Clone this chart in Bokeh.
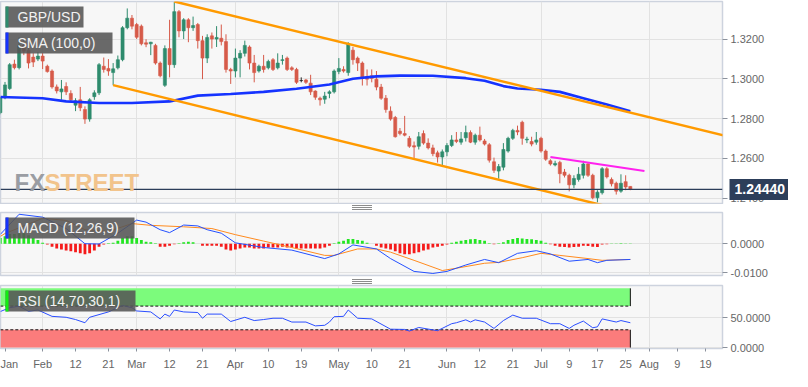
import numpy as np
import pandas as pd
from bokeh.plotting import figure
from bokeh.models import (Range1d, FixedTicker, NumeralTickFormatter, Span, Label,
                          BoxAnnotation, ColumnDataSource, LinearAxis, Div)
from bokeh.layouts import column
from bokeh.embed import file_html
from bokeh.resources import INLINE

# ---------------- data ----------------
days = pd.bdate_range("2019-01-21", "2019-07-26")

opens = [1.2830, 1.2905, 1.2952, 1.3075, 1.3057, 1.3170, 1.3145, 1.3110, 1.3100, 1.3115,
         1.3064, 1.3040, 1.2960, 1.2935, 1.2962, 1.2927, 1.2868, 1.2895, 1.2846, 1.2798,
         1.2911, 1.2930, 1.3064, 1.3053, 1.3032, 1.3056, 1.3097, 1.3258, 1.3306, 1.3274,
         1.3266, 1.3182, 1.3177, 1.3169, 1.3080, 1.2968, 1.3153, 1.3072, 1.3339, 1.3242,
         1.3298, 1.3258, 1.3274, 1.3193, 1.3105, 1.3217, 1.3201, 1.3205, 1.3188, 1.3048,
         1.3040, 1.3105, 1.3129, 1.3161, 1.3080, 1.3040, 1.3064, 1.3056, 1.3097, 1.3056,
         1.3093, 1.3105, 1.3056, 1.3048, 1.2992, 1.2995, 1.2979, 1.2939, 1.2903, 1.2898,
         1.2927, 1.2935, 1.3037, 1.3048, 1.3032, 1.3145, 1.3105, 1.3080, 1.3011, 1.3016,
         1.2999, 1.2959, 1.2903, 1.2838, 1.2806, 1.2737, 1.2725, 1.2701, 1.2664, 1.2661,
         1.2725, 1.2677, 1.2653, 1.2628, 1.2607, 1.2633, 1.2665, 1.2693, 1.2682, 1.2704,
         1.2730, 1.2682, 1.2717, 1.2688, 1.2669, 1.2583, 1.2536, 1.2556, 1.2637, 1.2701,
         1.2741, 1.2782, 1.2693, 1.2685, 1.2682, 1.2701, 1.2637, 1.2588, 1.2567, 1.2580,
         1.2531, 1.2515, 1.2467, 1.2494, 1.2515, 1.2572, 1.2515, 1.2402, 1.2427, 1.2548,
         1.2494, 1.2475, 1.2435, 1.2483, 1.2459]
highs = [1.2910, 1.2985, 1.3080, 1.3097, 1.3210, 1.3200, 1.3170, 1.3130, 1.3135, 1.3130,
         1.3072, 1.3048, 1.2972, 1.2995, 1.2983, 1.2943, 1.2903, 1.2960, 1.2862, 1.2903,
         1.2943, 1.3080, 1.3108, 1.3100, 1.3080, 1.3118, 1.3266, 1.3355, 1.3322, 1.3282,
         1.3274, 1.3200, 1.3187, 1.3177, 1.3088, 1.3169, 1.3298, 1.3387, 1.3347, 1.3306,
         1.3306, 1.3314, 1.3282, 1.3217, 1.3225, 1.3234, 1.3266, 1.3274, 1.3225, 1.3056,
         1.3153, 1.3145, 1.3193, 1.3169, 1.3121, 1.3072, 1.3121, 1.3097, 1.3105, 1.3129,
         1.3121, 1.3113, 1.3064, 1.3056, 1.3008, 1.3000, 1.3021, 1.2943, 1.2911, 1.2935,
         1.2943, 1.3048, 1.3105, 1.3064, 1.3185, 1.3161, 1.3113, 1.3088, 1.3048, 1.3048,
         1.3040, 1.2975, 1.2919, 1.2862, 1.2814, 1.2753, 1.2814, 1.2713, 1.2685, 1.2733,
         1.2741, 1.2701, 1.2669, 1.2639, 1.2645, 1.2677, 1.2717, 1.2733, 1.2733, 1.2765,
         1.2741, 1.2725, 1.2760, 1.2698, 1.2677, 1.2604, 1.2572, 1.2677, 1.2709, 1.2749,
         1.2765, 1.2790, 1.2709, 1.2709, 1.2733, 1.2709, 1.2645, 1.2596, 1.2588, 1.2588,
         1.2547, 1.2523, 1.2515, 1.2556, 1.2588, 1.2580, 1.2523, 1.2440, 1.2556, 1.2556,
         1.2504, 1.2483, 1.2520, 1.2515, 1.2460]
lows = [1.2822, 1.2898, 1.2945, 1.3048, 1.3048, 1.3120, 1.3053, 1.3060, 1.3090, 1.3050,
        1.3032, 1.2951, 1.2927, 1.2895, 1.2919, 1.2887, 1.2838, 1.2838, 1.2774, 1.2785,
        1.2895, 1.2919, 1.3032, 1.3016, 1.2968, 1.3048, 1.3089, 1.3250, 1.3250, 1.3201,
        1.3169, 1.3160, 1.3120, 1.3072, 1.3008, 1.2960, 1.3008, 1.3056, 1.3210, 1.3201,
        1.3185, 1.3242, 1.3153, 1.2999, 1.3080, 1.3153, 1.3161, 1.3169, 1.3032, 1.2975,
        1.3008, 1.3008, 1.3113, 1.3048, 1.2983, 1.3032, 1.3032, 1.3048, 1.3040, 1.3048,
        1.3072, 1.3040, 1.3040, 1.2975, 1.2983, 1.2975, 1.2919, 1.2895, 1.2866, 1.2875,
        1.2903, 1.2927, 1.3024, 1.3032, 1.3016, 1.3072, 1.3040, 1.2967, 1.2967, 1.2983,
        1.2943, 1.2895, 1.2830, 1.2790, 1.2705, 1.2716, 1.2711, 1.2653, 1.2600, 1.2645,
        1.2669, 1.2645, 1.2611, 1.2579, 1.2563, 1.2611, 1.2657, 1.2677, 1.2669, 1.2685,
        1.2677, 1.2669, 1.2685, 1.2665, 1.2579, 1.2527, 1.2498, 1.2540, 1.2629, 1.2693,
        1.2717, 1.2669, 1.2677, 1.2661, 1.2669, 1.2629, 1.2588, 1.2564, 1.2560, 1.2475,
        1.2504, 1.2434, 1.2450, 1.2483, 1.2499, 1.2507, 1.2394, 1.2379, 1.2418, 1.2499,
        1.2459, 1.2418, 1.2427, 1.2440, 1.2440]
closes = [1.2905, 1.2970, 1.3072, 1.3057, 1.3169, 1.3140, 1.3080, 1.3085, 1.3115, 1.3090,
          1.3037, 1.2960, 1.2940, 1.2950, 1.2935, 1.2895, 1.2890, 1.2855, 1.2798, 1.2895,
          1.2930, 1.3072, 1.3048, 1.3040, 1.3051, 1.3097, 1.3258, 1.3306, 1.3266, 1.3210,
          1.3177, 1.3175, 1.3185, 1.3080, 1.3016, 1.3153, 1.3072, 1.3339, 1.3242, 1.3298,
          1.3258, 1.3269, 1.3193, 1.3105, 1.3209, 1.3201, 1.3209, 1.3188, 1.3048, 1.3040,
          1.3105, 1.3129, 1.3169, 1.3080, 1.3032, 1.3064, 1.3048, 1.3088, 1.3048, 1.3080,
          1.3097, 1.3048, 1.3048, 1.2983, 1.2992, 1.2983, 1.2935, 1.2908, 1.2895, 1.2914,
          1.2935, 1.3040, 1.3053, 1.3040, 1.3177, 1.3097, 1.3080, 1.3008, 1.2999, 1.3003,
          1.2959, 1.2903, 1.2846, 1.2798, 1.2709, 1.2725, 1.2717, 1.2661, 1.2657, 1.2709,
          1.2677, 1.2653, 1.2624, 1.2607, 1.2633, 1.2665, 1.2693, 1.2685, 1.2698, 1.2730,
          1.2682, 1.2717, 1.2693, 1.2672, 1.2591, 1.2540, 1.2559, 1.2645, 1.2701, 1.2741,
          1.2733, 1.2701, 1.2697, 1.2672, 1.2693, 1.2637, 1.2596, 1.2572, 1.2575, 1.2523,
          1.2515, 1.2467, 1.2499, 1.2520, 1.2572, 1.2515, 1.2402, 1.2430, 1.2548, 1.2507,
          1.2472, 1.2435, 1.2475, 1.2456, 1.2444]

# SMA(100): trading-day index -> value
sma_day = [0, 9, 14, 21, 28, 36, 42, 49, 56, 63, 70, 75, 80, 85, 92, 99, 103, 107, 110,
           115, 119, 124, 129, 134]
sma_value = [1.2909, 1.2903, 1.2887, 1.2879, 1.2879, 1.2887, 1.2916, 1.2924, 1.2935,
             1.2951, 1.2972, 1.3001, 1.3013, 1.3017, 1.3016, 1.3004, 1.2991, 1.2964,
             1.2952, 1.2946, 1.2935, 1.2903, 1.2871, 1.2838]

# MACD (12,26,9)
macd_day = [0, 4, 9, 14, 18, 21, 25, 29, 31, 34, 36, 39, 42, 44, 47, 50, 56, 62, 69, 72,
            75, 80, 83, 88, 92, 95, 99, 103, 106, 110, 114, 117, 121, 125, 127, 129, 134]
macd_value = [0.0032, 0.0101, 0.0091, 0.0052, 0.0000, -0.0001, 0.0036, 0.0081, 0.0074,
              0.0048, 0.0038, 0.0064, 0.0061, 0.0048, 0.0036, 0.0003, -0.0013, -0.0022,
              -0.0051, -0.0035, -0.0004, -0.0018, -0.0051, -0.0095, -0.0102, -0.0095,
              -0.0073, -0.0054, -0.0065, -0.0033, -0.0024, -0.0035, -0.0060, -0.0054,
              -0.0065, -0.0057, -0.0054]
signal_day = [0, 1, 9, 14, 18, 23, 28, 32, 39, 45, 50, 56, 62, 69, 71, 76, 80, 83, 88, 94,
              97, 103, 106, 111, 115, 119, 125, 128, 134]
signal_value = [0.0025, 0.0035, 0.0087, 0.0080, 0.0048, 0.0042, 0.0069, 0.0063, 0.0058,
                0.0052, 0.0031, 0.0009, -0.0013, -0.0040, -0.0040, -0.0018, -0.0018,
                -0.0029, -0.0057, -0.0092, -0.0084, -0.0067, -0.0064, -0.0048, -0.0033,
                -0.0040, -0.0051, -0.0057, -0.0054]
hist_value = [0.0020, 0.0026, 0.0033, 0.0033, 0.0036, 0.0036, 0.0029, 0.0020, 0.0013, 0.0003,
              -0.0003, -0.0010, -0.0016, -0.0020, -0.0023, -0.0026, -0.0029, -0.0033, -0.0036, -0.0033,
              -0.0023, -0.0010, -0.0003, 0.0002, 0.0003, 0.0010, 0.0020, 0.0026, 0.0026, 0.0020,
              0.0013, 0.0007, 0.0005, 0.0002, -0.0010, -0.0010, -0.0007, -0.0002, 0.0002, 0.0005,
              0.0007, 0.0005, 0.0000, -0.0007, -0.0007, -0.0007, -0.0007, -0.0010, -0.0020, -0.0023,
              -0.0020, -0.0016, -0.0013, -0.0013, -0.0016, -0.0016, -0.0016, -0.0013, -0.0013, -0.0013,
              -0.0010, -0.0013, -0.0013, -0.0016, -0.0016, -0.0016, -0.0016, -0.0016, -0.0016, -0.0013,
              -0.0007, 0.0002, 0.0007, 0.0010, 0.0016, 0.0016, 0.0013, 0.0010, 0.0003, 0.0000,
              -0.0007, -0.0013, -0.0016, -0.0020, -0.0026, -0.0033, -0.0036, -0.0036, -0.0033, -0.0029,
              -0.0023, -0.0020, -0.0013, -0.0010, -0.0007, -0.0003, 0.0003, 0.0007, 0.0010, 0.0013,
              0.0015, 0.0016, 0.0013, 0.0010, 0.0002, -0.0002, 0.0002, 0.0005, 0.0013, 0.0016,
              0.0020, 0.0018, 0.0016, 0.0015, 0.0013, 0.0010, 0.0003, -0.0002, -0.0007, -0.0010,
              -0.0011, -0.0013, -0.0011, -0.0010, -0.0007, -0.0008, -0.0010, -0.0011, -0.0003, -0.0002,
              0.0001, 0.0001, 0.0002, 0.0001, 0.0001]

# RSI (14,70,30,1)
rsi_day = [0, 2, 4, 6, 8, 11, 14, 16, 18, 19, 23, 26, 28, 29, 32, 34, 35, 36, 37, 39, 42,
           43, 44, 47, 49, 52, 54, 56, 58, 60, 62, 65, 67, 69, 70, 71, 73, 74, 75, 76, 79,
           83, 86, 87, 89, 93, 96, 97, 99, 100, 101, 103, 105, 107, 109, 111, 114, 117, 119,
           121, 122, 124, 126, 127, 128, 131, 132, 134]
rsi_value = [60.8, 67.3, 69.8, 61.3, 63.4, 52.7, 51.1, 47.3, 41.9, 51.1, 60.2, 71.0, 67.3,
             61.8, 60.2, 48.4, 56.5, 52.7, 63.4, 60.2, 59.2, 49.5, 56.5, 56.5, 44.0, 51.1,
             45.6, 47.3, 49.5, 49.5, 43.1, 43.1, 36.6, 37.6, 43.1, 52.1, 52.7, 63.4, 56.5,
             49.5, 48.4, 31.0, 30.6, 27.9, 33.9, 28.5, 40.3, 41.9, 46.8, 43.1, 46.8, 43.1,
             32.3, 45.6, 54.8, 49.5, 49.5, 40.3, 40.3, 32.3, 37.6, 44.7, 33.4, 35.0, 48.4,
             43.1, 45.6, 41.9]
rsi_upper_band = [70, 100]
rsi_lower_band = [0, 30]

# drawn trend lines
channel_top_dates = ["2019-03-13", "2019-08-23"]
channel_top_price = [1.3390, 1.2715]
channel_bottom_dates = ["2019-02-22", "2019-07-19"]
channel_bottom_price = [1.2969, 1.2359]
resistance_dates = ["2019-07-03", "2019-07-31"]
resistance_price = [1.2607, 1.2537]

price_ticks = [1.24, 1.26, 1.28, 1.30, 1.32]
macd_ticks = [-0.01, 0.0]
rsi_ticks = [0, 50]

tick_dates = ["2019-01-22", "2019-02-01", "2019-02-12", "2019-02-21", "2019-03-01",
              "2019-03-12", "2019-03-21", "2019-04-01", "2019-04-10", "2019-04-19",
              "2019-05-01", "2019-05-10", "2019-05-21", "2019-06-03", "2019-06-12",
              "2019-06-21", "2019-07-01", "2019-07-09", "2019-07-17", "2019-07-25",
              "2019-08-01", "2019-08-09", "2019-08-19"]
tick_labels = ["Jan", "Feb", "12", "21", "Mar", "12", "21", "Apr", "10", "19", "May", "10",
               "21", "Jun", "12", "21", "Jul", "9", "17", "25", "Aug", "9", "19"]
month_dates = ["2019-02-01", "2019-03-01", "2019-04-01", "2019-05-01", "2019-06-03",
               "2019-07-01", "2019-08-01"]

# ---------------- helpers ----------------
START = "2019-01-21"


def tpos(dlist):
    return [int(np.busday_count(START, d)) for d in dlist]


GREEN = "#2e8b6d"
RED = "#d65a49"
NAVY = "#2c3e5a"
SMA_BLUE = "#1533ff"
FONT = "Liberation Sans"
FW = 722
H1, H2, H3 = 202, 63, 63

xr = Range1d(0.04, 153.6)
month_pos = tpos(month_dates)


def base_fig(fh, yr, xloc, mbt, mbb):
    p = figure(frame_width=FW, frame_height=fh, x_range=xr, y_range=yr,
               output_backend="svg", toolbar_location=None,
               x_axis_location=xloc, y_axis_location="right",
               min_border_left=0, min_border_top=mbt, min_border_bottom=mbb,
               min_border_right=2)
    p.background_fill_color = "#f7f7f7"
    p.border_fill_color = "white"
    p.outline_line_color = "#cdd3de"
    p.outline_line_width = 1.5
    p.xgrid.ticker = FixedTicker(ticks=month_pos)
    p.xgrid.grid_line_color = "#e2e2e2"
    p.ygrid.grid_line_color = "#e2e2e2"
    ax = p.yaxis[0]
    ax.axis_line_color = None
    ax.major_tick_line_color = "#8b919c"
    ax.major_tick_out = 5
    ax.major_tick_in = 0
    ax.minor_tick_line_color = None
    ax.major_label_text_font = FONT
    ax.major_label_text_font_size = "11px"
    ax.major_label_text_color = "#666666"
    ax.major_label_standoff = 3
    ax.formatter = NumeralTickFormatter(format="0.0000")
    return p


def legend_box(p, fh, text, strip_color, right):
    p.add_layout(BoxAnnotation(left=5, right=right, top=fh - 5, bottom=fh - 26,
                               left_units="screen", right_units="screen",
                               top_units="screen", bottom_units="screen",
                               fill_color="#555555", fill_alpha=0.88, line_color=None))
    p.add_layout(BoxAnnotation(left=5, right=8, top=fh - 5, bottom=fh - 26,
                               left_units="screen", right_units="screen",
                               top_units="screen", bottom_units="screen",
                               fill_color=strip_color, fill_alpha=1.0, line_color=None))
    p.add_layout(Label(x=17, y=fh - 15.5, x_units="screen", y_units="screen", text=text,
                       text_font=FONT, text_font_size="14px", text_color="#f2f2f2",
                       text_baseline="middle"))


def handle_div(mt, mb):
    # small "drag handle" (three short grey lines) between two panels
    return Div(text="", width=20, height=5, margin=(mt, 0, mb, 352),
               styles={"background": "repeating-linear-gradient(to bottom, #8c8c8c 0px, "
                                     "#8c8c8c 1px, #ffffff 1px, #ffffff 2px)"})


# ---------------- price panel ----------------
pos = np.arange(len(days))
o = np.array(opens); h = np.array(highs); l = np.array(lows); c = np.array(closes)
colors = np.where(c > o, GREEN, np.where(c < o, RED, "#222222"))
src = ColumnDataSource(dict(x=pos, h=h, l=l, top=np.maximum(o, c), bottom=np.minimum(o, c),
                            color=colors))

p1 = base_fig(H1, Range1d(1.2373, 1.3390), None, 1, 1)
p1.yaxis[0].ticker = FixedTicker(ticks=price_ticks)
p1.segment(x0="x", y0="h", x1="x", y1="l", line_color="color", line_width=1, source=src)
p1.vbar(x="x", width=0.66, top="top", bottom="bottom", fill_color="color",
        line_color="color", line_width=0.6, source=src)
p1.line(sma_day, sma_value, line_color=SMA_BLUE, line_width=2.6)
p1.line(tpos(channel_top_dates), channel_top_price, line_color="#ff9a00", line_width=2.5)
p1.line(tpos(channel_bottom_dates), channel_bottom_price, line_color="#ff9a00", line_width=2.5)
p1.line(tpos(resistance_dates), resistance_price, line_color="#ff22ee", line_width=2)

last = closes[-1]
p1.add_layout(Span(location=last, dimension="width", line_color=NAVY, line_width=1.2))

# watermark
p1.add_layout(Label(x=14, y=21, x_units="screen", y_units="screen", text="FX",
                    text_font=FONT, text_font_style="bold",
                    text_font_size="24px", text_color="#9a9da3", text_baseline="alphabetic"))
p1.add_layout(Label(x=44, y=21, x_units="screen", y_units="screen", text="STREET",
                    text_font=FONT, text_font_style="bold",
                    text_font_size="24px", text_color="#f2c48c", text_baseline="alphabetic"))

legend_box(p1, H1, "GBP/USD", GREEN, 83)
legend_box(p1, H1 - 26, "SMA (100,0)", SMA_BLUE, 112)

# current price tag: a second right axis whose single wide tick forms the box
tag = LinearAxis()
tag.ticker = FixedTicker(ticks=[last])
tag.formatter = NumeralTickFormatter(format="0.00000")
tag.axis_line_color = None
tag.minor_tick_line_color = None
tag.major_tick_line_color = NAVY
tag.major_tick_line_width = 21
tag.major_tick_in = 38
tag.major_tick_out = 23
tag.major_label_standoff = -56
tag.major_label_text_font = FONT
tag.major_label_text_font_style = "bold"
tag.major_label_text_font_size = "14px"
tag.major_label_text_color = "white"
p1.add_layout(tag, "right")

# ---------------- MACD panel ----------------
p2 = base_fig(H2, Range1d(-0.0109, 0.0107), None, 1, 4)
p2.yaxis[0].ticker = FixedTicker(ticks=macd_ticks)
hv = np.array(hist_value)
hsrc = ColumnDataSource(dict(x=pos, top=hv, color=np.where(hv >= 0, "#22e622", "#f51a1a")))
p2.vbar(x="x", width=0.6, top="top", bottom=0, fill_color="color", line_color=None,
        source=hsrc)
p2.line(signal_day, signal_value, line_color="#ff8a1e", line_width=1)
p2.line(macd_day, macd_value, line_color="#2450ff", line_width=1)
legend_box(p2, H2, "MACD (12,26,9)", "#1533ff", 134)

# ---------------- RSI panel ----------------
p3 = base_fig(H3, Range1d(-1.6, 104.8), "below", 1, 5)
p3.yaxis[0].ticker = FixedTicker(ticks=rsi_ticks)
band_l, band_r = int(pos[0]), int(pos[-1])
p3.quad(left=band_l, right=band_r, bottom=rsi_upper_band[0], top=rsi_upper_band[1],
        fill_color="#7cfb7c", line_color=None)
p3.quad(left=band_l, right=band_r, bottom=rsi_lower_band[0], top=rsi_lower_band[1],
        fill_color="#fb7c7c", line_color=None)
p3.segment(x0=[band_l, band_l], x1=[band_r, band_r],
           y0=[rsi_upper_band[0], rsi_lower_band[1]], y1=[rsi_upper_band[0], rsi_lower_band[1]],
           line_color="#111111", line_width=1, line_dash="3 2")
p3.segment(x0=[band_r, band_r], x1=[band_r, band_r],
           y0=[rsi_upper_band[0], rsi_lower_band[0]], y1=[rsi_upper_band[1], rsi_lower_band[1]],
           line_color="#111111", line_width=1)
p3.line(rsi_day, rsi_value, line_color="#2a4dff", line_width=1)
legend_box(p3, H3, "RSI (14,70,30,1)", "#11ee11", 135)

xa = p3.xaxis[0]
tp = tpos(tick_dates)
xa.ticker = FixedTicker(ticks=tp)
xa.major_label_overrides = {t: s for t, s in zip(tp, tick_labels)}
xa.axis_line_color = None
xa.major_tick_line_color = "#8b919c"
xa.major_tick_out = 3
xa.major_tick_in = 0
xa.minor_tick_line_color = None
xa.major_label_text_font = FONT
xa.major_label_text_font_size = "11px"
xa.major_label_text_color = "#666666"
xa.major_label_standoff = 6

layout = column(p1, handle_div(1, 1), p2, handle_div(0, 0), p3, spacing=0)
open("out.html", "w").write(file_html(layout, INLINE))
